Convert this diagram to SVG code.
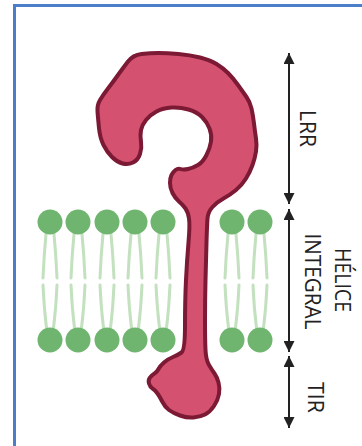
<svg xmlns="http://www.w3.org/2000/svg" xmlns:xlink="http://www.w3.org/1999/xlink" width="362" height="446" viewBox="0 0 362 446">
  <style>
    .frame { fill: none; stroke: #4a7ec9; stroke-width: 3; }
    .head { fill: #6fb56f; }
    .tail { fill: none; stroke: #c3e0bf; stroke-width: 3; stroke-linecap: round; }
    .protein { fill: #d4516f; stroke: #7c1a35; stroke-width: 4; stroke-linejoin: round; }
    .dim { stroke: #222; stroke-width: 2; fill: none; marker-start: url(#tip); marker-end: url(#tip); }
    .label { font-family: "Open Sans", "Liberation Sans", sans-serif; font-size: 21px; fill: #222; text-anchor: middle; }
  </style>
  <defs>
    <marker id="tip" viewBox="0 0 10 10" refX="10" refY="5" markerWidth="11" markerHeight="11" markerUnits="userSpaceOnUse" orient="auto-start-reverse">
      <path d="M0,0 L10,5 L0,10 Z" fill="#222"/>
    </marker>
    <!-- one phospholipid pair spanning both leaflets -->
    <g id="lipid">
      <path class="tail" d="M-4,234 Q-6,255 -7,278"/>
      <path class="tail" d="M4,234 Q6,255 7,278"/>
      <path class="tail" d="M-7,285 Q-6,308 -3.5,328"/>
      <path class="tail" d="M7,285 Q6,308 3.5,328"/>
      <circle class="head" cx="0" cy="222" r="12.5"/>
      <circle class="head" cx="0" cy="340" r="12.5"/>
    </g>
  </defs>

  <path class="frame" d="M14.5,446 V5.5 H362"/>

  <g id="membrane">
    <use xlink:href="#lipid" x="50"/>
    <use xlink:href="#lipid" x="78"/>
    <use xlink:href="#lipid" x="107"/>
    <use xlink:href="#lipid" x="135"/>
    <use xlink:href="#lipid" x="163"/>
    <use xlink:href="#lipid" x="232"/>
    <use xlink:href="#lipid" x="260"/>
  </g>

  <g id="receptor">
    <path class="protein" d="M128,61.5 Q133,55 141.5,54 Q150,53 158.5,53 Q167,53 178.5,54 Q190,55 200,57.5 Q210,60 216.5,64 Q223,68 228,73 Q233,78 238,85 Q243,92 246.5,97 Q250,102 251.5,108.5 Q253,115 254,123.5 Q255,132 256,138.5 Q257,145 256,151.5 Q255,158 252.5,165 Q250,172 246,178.5 Q242,185 236,190 Q230,195 223.5,198.5 Q217,202 212.5,207 Q208,212 207.5,218.5 Q207,225 206.5,242.5 Q206,260 205.5,280 Q205,300 205,320 Q205,340 205.5,350 Q206,360 209,365 Q212,370 214.5,373.5 Q217,377 218.5,382.5 Q220,388 219,394 Q218,400 214,406 Q210,412 205,414.5 Q200,417 193.5,417.5 Q187,418 180,415.5 Q173,413 169,410 Q165,407 162.5,402 Q160,397 157.5,393.5 Q155,390 152.5,388.5 Q150,387 149,383.5 Q148,380 150,377.5 Q152,375 154.5,373.5 Q157,372 158.5,369 Q160,366 164,362.5 Q168,359 173,357 Q178,355 181.5,352.5 Q185,350 185,325 Q185,300 186,280 Q187,260 188.5,242.5 Q190,225 189,218.5 Q188,212 185.5,208.5 Q183,205 179,201.5 Q175,198 172.5,193 Q170,188 170,183 Q170,178 171.5,175 Q173,172 175.5,170 Q178,168 180.5,169 Q183,170 188,169 Q193,168 198,165 Q203,162 206.5,155 Q210,148 211,141.5 Q212,135 209.5,128.5 Q207,122 202,117 Q197,112 188.5,109.5 Q180,107 171.5,107.5 Q163,108 156.5,111.5 Q150,115 146,120 Q142,125 141,130 Q140,135 141,141.5 Q142,148 140,154 Q138,160 133,162.5 Q128,165 122.5,163.5 Q117,162 112,157 Q107,152 103.5,145 Q100,138 99,128 Q98,118 97.5,111.5 Q97,105 100,100 Q103,95 108,88.5 Q113,82 118,75 Q123,68 128,61.5 Z"/>
  </g>

  <g id="connectors">
    <line class="dim" x1="289" y1="53" x2="289" y2="204"/>
    <line class="dim" x1="289" y1="209" x2="289" y2="352"/>
    <line class="dim" x1="289" y1="356" x2="289" y2="428"/>
  </g>

  <g id="label-lrr">
    <text class="label" transform="translate(300,128.5) rotate(90)" textLength="37" lengthAdjust="spacingAndGlyphs">LRR</text>
  </g>
  <g id="label-helice">
    <text class="label" transform="translate(335,280) rotate(90)" textLength="64" lengthAdjust="spacingAndGlyphs">HÉLICE</text>
    <text class="label" transform="translate(305,281.5) rotate(90)" textLength="96" lengthAdjust="spacingAndGlyphs">INTEGRAL</text>
  </g>
  <g id="label-tir">
    <text class="label" transform="translate(308,397.5) rotate(90)" textLength="31" lengthAdjust="spacingAndGlyphs">TIR</text>
  </g>
</svg>
